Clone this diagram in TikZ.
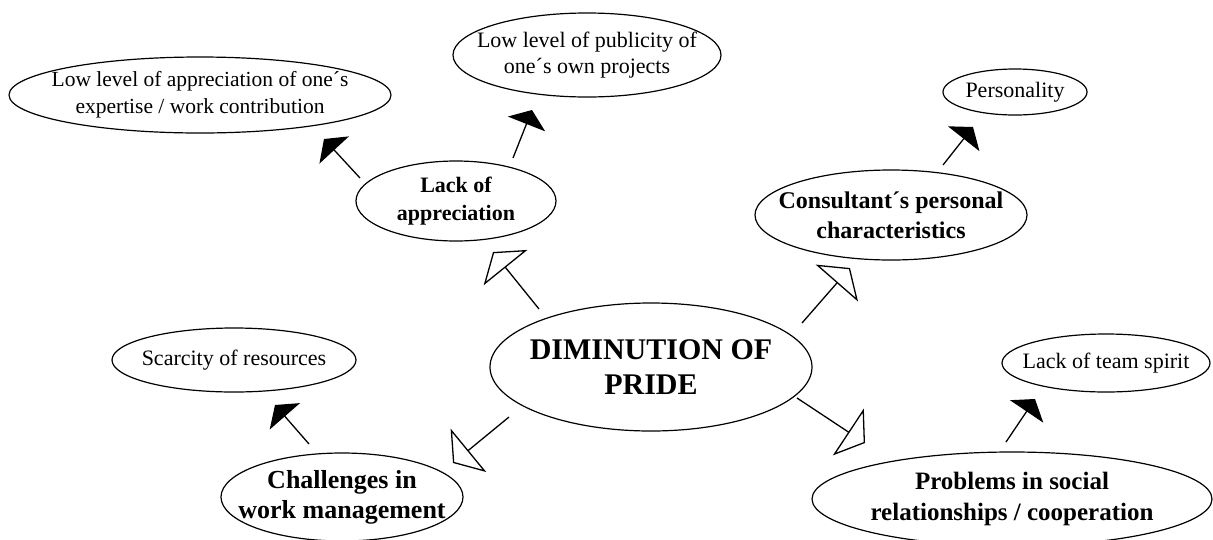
\documentclass[tikz,border=0pt]{standalone}
\usepackage{fontspec}
\setmainfont{Liberation Serif}
\usetikzlibrary{shapes.geometric,arrows.meta}
\tikzset{
  bub/.style={draw, ellipse, line width=1.2pt, inner xsep=-300pt, inner ysep=-100pt, align=center},
  sec/.style={bub, font=\fontsize{22}{26}\selectfont},
  pri/.style={bub, font=\bfseries\fontsize{24}{30}\selectfont},
  openarr/.style={line width=1.3pt, -{Triangle[open, length=20pt, width=56pt]}},
  blackarr/.style={line width=1.3pt, -{Triangle[length=15pt, width=40pt]}},
}
\begin{document}
\begin{tikzpicture}[x=1pt,y=-1pt]
\useasboundingbox (0,0) rectangle (1213,539);
% nodes
\node[bub, font=\bfseries\fontsize{30}{35}\selectfont, minimum width=322pt, minimum height=128pt] (main) at (651,367) {DIMINUTION OF\\PRIDE};
\node[pri, font=\bfseries\fontsize{22}{28}\selectfont, minimum width=200pt, minimum height=80pt] (lack) at (456,201) {Lack of\\appreciation};
\node[pri, minimum width=272pt, minimum height=90pt] (cons) at (891,215) {Consultant´s personal\\characteristics};
\node[pri, font=\bfseries\fontsize{26}{30}\selectfont, minimum width=242pt, minimum height=88pt] (chal) at (342,497) {Challenges in\\work management};
\node[pri, font=\bfseries\fontsize{25}{31}\selectfont, minimum width=400pt, minimum height=94pt] (prob) at (1012,499) {Problems in social\\relationships / cooperation};
\node[sec, font=\fontsize{21.5}{27}\selectfont, minimum width=382pt, minimum height=76pt] (lowapp) at (200,95) {Low level of appreciation of one´s\\expertise / work contribution};
\node[sec, minimum width=268pt, minimum height=84pt] (lowpub) at (587,55) {Low level of publicity of\\one´s own projects};
\node[sec, minimum width=144pt, minimum height=46pt] (pers) at (1015,92) {Personality};
\node[sec, minimum width=244pt, minimum height=64pt] (scar) at (234,360) {Scarcity of resources};
\node[sec, minimum width=208pt, minimum height=58pt] (team) at (1106,363) {Lack of team spirit};
% connector ends
\coordinate (a1s) at (539,309); \coordinate (a1t) at (493,252);
\coordinate (a2s) at (802,323); \coordinate (a2t) at (850,268);
\coordinate (a3s) at (509,417); \coordinate (a3t) at (453,463);
\coordinate (a4s) at (797,398); \coordinate (a4t) at (865,443);
\coordinate (b1s) at (360,178); \coordinate (b1t) at (324,139);
\coordinate (b2s) at (513,158); \coordinate (b2t) at (532,110);
\coordinate (b3s) at (943,165); \coordinate (b3t) at (973,127);
\coordinate (b4s) at (309,444); \coordinate (b4t) at (275,405);
\coordinate (b5s) at (1006,442); \coordinate (b5t) at (1035,399);
% connectors
\draw[openarr] (a1s) -- (a1t);
\draw[openarr] (a2s) -- (a2t);
\draw[openarr] (a3s) -- (a3t);
\draw[openarr] (a4s) -- (a4t);
\draw[blackarr] (b1s) -- (b1t);
\draw[blackarr] (b2s) -- (b2t);
\draw[blackarr] (b3s) -- (b3t);
\draw[blackarr] (b4s) -- (b4t);
\draw[blackarr] (b5s) -- (b5t);
\end{tikzpicture}
\end{document}
